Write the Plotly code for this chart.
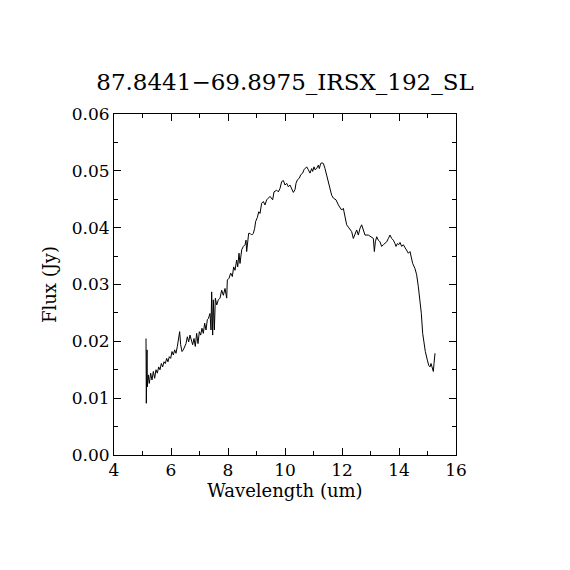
import plotly.graph_objects as go

# Spectrum
wavelength = [
    5.123, 5.134, 5.158, 5.169, 5.204, 5.239, 5.286, 5.333, 5.380, 5.427,
    5.473, 5.520, 5.567, 5.614, 5.661, 5.707, 5.754, 5.801, 5.848, 5.894,
    5.941, 5.988, 6.035, 6.082, 6.128, 6.175, 6.222, 6.269, 6.304, 6.339,
    6.386, 6.432, 6.479, 6.526, 6.573, 6.620, 6.666, 6.713, 6.760, 6.807,
    6.853, 6.900, 6.947, 6.994, 7.041, 7.087, 7.134, 7.181, 7.228, 7.275,
    7.310, 7.369, 7.404, 7.427, 7.462, 7.486, 7.521, 7.556, 7.603, 7.661,
    7.720, 7.778, 7.837, 7.895, 7.954, 7.977, 8.036, 8.094, 8.152, 8.199,
    8.246, 8.304, 8.340, 8.386, 8.421, 8.480, 8.538, 8.597, 8.632, 8.655,
    8.690, 8.725, 8.772, 8.831, 8.889, 8.936, 8.971, 9.030, 9.080, 9.123,
    9.181, 9.240, 9.298, 9.357, 9.415, 9.474, 9.567, 9.614, 9.708, 9.766,
    9.825, 9.883, 9.942, 10.000, 10.059, 10.117, 10.176, 10.234, 10.293, 10.351,
    10.386, 10.433, 10.503, 10.550, 10.620, 10.667, 10.714, 10.760, 10.819, 10.877,
    10.936, 10.971, 11.018, 11.053, 11.111, 11.170, 11.205, 11.252, 11.298, 11.345,
    11.404, 11.462, 11.521, 11.579, 11.638, 11.696, 11.790, 11.872, 11.930, 11.988,
    12.047, 12.105, 12.164, 12.222, 12.281, 12.339, 12.398, 12.456, 12.515, 12.573,
    12.632, 12.690, 12.749, 12.807, 12.924, 13.041, 13.100, 13.135, 13.170, 13.217,
    13.275, 13.334, 13.392, 13.450, 13.509, 13.567, 13.626, 13.684, 13.743, 13.801,
    13.860, 13.895, 13.942, 13.988, 14.035, 14.094, 14.152, 14.211, 14.269, 14.328,
    14.386, 14.421, 14.480, 14.562, 14.620, 14.679, 14.737, 14.784, 14.831, 14.877,
    14.924, 14.994, 15.041, 15.088, 15.123, 15.158, 15.205, 15.228, 15.263,
]
flux = [
    0.0205, 0.0091, 0.0185, 0.0120, 0.0141, 0.0126, 0.0144, 0.0132, 0.0147, 0.0135,
    0.0150, 0.0144, 0.0155, 0.0150, 0.0161, 0.0155, 0.0164, 0.0161, 0.0170, 0.0164,
    0.0173, 0.0170, 0.0182, 0.0176, 0.0185, 0.0179, 0.0191, 0.0205, 0.0217, 0.0194,
    0.0182, 0.0185, 0.0191, 0.0196, 0.0208, 0.0199, 0.0211, 0.0202, 0.0194, 0.0205,
    0.0191, 0.0214, 0.0196, 0.0217, 0.0211, 0.0223, 0.0214, 0.0232, 0.0220, 0.0238,
    0.0240, 0.0249, 0.0220, 0.0287, 0.0211, 0.0273, 0.0220, 0.0276, 0.0264, 0.0273,
    0.0276, 0.0290, 0.0281, 0.0293, 0.0276, 0.0308, 0.0311, 0.0320, 0.0314, 0.0331,
    0.0325, 0.0343, 0.0331, 0.0355, 0.0337, 0.0361, 0.0367, 0.0370, 0.0378, 0.0358,
    0.0381, 0.0390, 0.0390, 0.0387, 0.0390, 0.0399, 0.0411, 0.0418, 0.0428, 0.0425,
    0.0443, 0.0446, 0.0440, 0.0449, 0.0452, 0.0455, 0.0449, 0.0463, 0.0466, 0.0463,
    0.0469, 0.0481, 0.0483, 0.0475, 0.0478, 0.0472, 0.0475, 0.0469, 0.0462, 0.0467,
    0.0478, 0.0484, 0.0487, 0.0493, 0.0496, 0.0502, 0.0504, 0.0507, 0.0502, 0.0496,
    0.0504, 0.0499, 0.0507, 0.0502, 0.0504, 0.0510, 0.0504, 0.0513, 0.0514, 0.0513,
    0.0504, 0.0493, 0.0481, 0.0469, 0.0457, 0.0452, 0.0449, 0.0440, 0.0434, 0.0431,
    0.0434, 0.0419, 0.0405, 0.0401, 0.0397, 0.0393, 0.0381, 0.0390, 0.0396, 0.0387,
    0.0399, 0.0405, 0.0396, 0.0387, 0.0387, 0.0384, 0.0381, 0.0358, 0.0375, 0.0384,
    0.0378, 0.0375, 0.0367, 0.0370, 0.0372, 0.0375, 0.0381, 0.0387, 0.0381, 0.0378,
    0.0372, 0.0367, 0.0372, 0.0370, 0.0374, 0.0367, 0.0370, 0.0364, 0.0361, 0.0355,
    0.0358, 0.0349, 0.0337, 0.0328, 0.0317, 0.0296, 0.0273, 0.0249, 0.0214, 0.0196,
    0.0182, 0.0167, 0.0158, 0.0155, 0.0161, 0.0155, 0.0147, 0.0161, 0.0179,
]

x_ticks = [4, 6, 8, 10, 12, 14, 16]
y_ticks = [0.00, 0.01, 0.02, 0.03, 0.04, 0.05, 0.06]

font_name = "DejaVu Serif"

fig = go.Figure()
fig.add_trace(go.Scatter(x=wavelength, y=flux, mode="lines",
                         line=dict(color="black", width=1), showlegend=False))

axis_style = dict(
    showline=True, linecolor="black", linewidth=1, mirror="ticks",
    ticks="inside", ticklen=7, tickcolor="black", tickwidth=1,
    showgrid=False, zeroline=False,
    tickfont=dict(family=font_name, size=17, color="black"),
)

# page has an 8px body margin, so the margins are offset to match
fig.update_layout(
    width=570, height=570,
    margin=dict(l=106, r=122, t=106, b=123),
    paper_bgcolor="white", plot_bgcolor="white",
    title=dict(text="87.8441\u221269.8975_IRSX_192_SL", x=0.5, xanchor="center",
               xref="paper", y=0.870, yanchor="middle",
               font=dict(family=font_name, size=23, color="black")),
    xaxis=dict(axis_style, range=[4, 16], tickvals=x_ticks,
               minor=dict(dtick=1, ticks="inside", ticklen=4, tickcolor="black"),
               title=dict(text="Wavelength (um)", standoff=4,
                          font=dict(family=font_name, size=18, color="black"))),
    yaxis=dict(axis_style, range=[0, 0.06], tickvals=y_ticks, tickformat=".2f",
               minor=dict(dtick=0.005, ticks="inside", ticklen=4, tickcolor="black"),
               title=dict(text="Flux (Jy)", standoff=10,
                          font=dict(family=font_name, size=18, color="black"))),
)

fig.write_html("out.html")
